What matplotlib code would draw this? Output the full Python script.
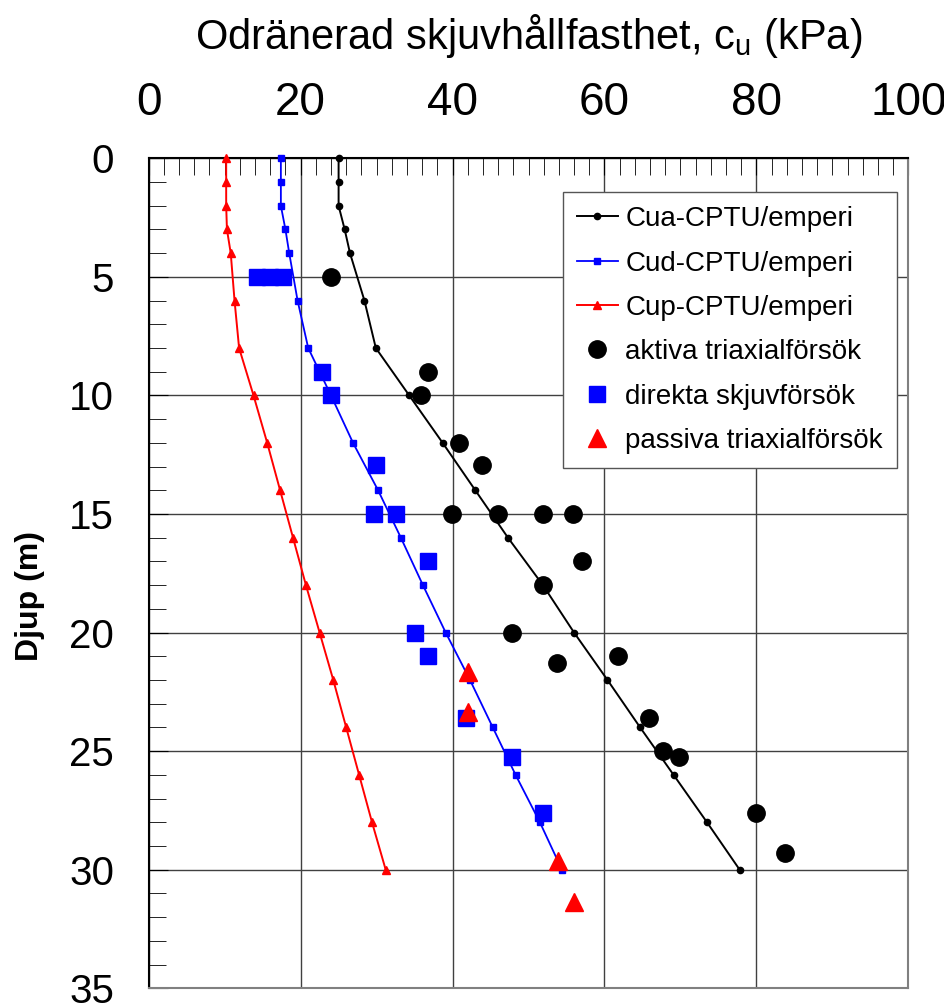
import matplotlib
matplotlib.use("Agg")
import matplotlib.pyplot as plt
from matplotlib.ticker import MultipleLocator

plt.rcParams["font.family"] = ["Liberation Sans", "DejaVu Sans"]
plt.rcParams["mathtext.fontset"] = "custom"
plt.rcParams["mathtext.rm"] = "Liberation Sans"

# CPTU-derived profiles (depth in m, cu in kPa)
depth = [0, 1, 2, 3, 4, 6, 8, 10, 12, 14, 16, 18, 20, 22, 24, 26, 28, 30]
cua = [25.0, 25.0, 25.0, 25.8, 26.5, 28.4, 29.9, 34.3, 38.7, 43.0, 47.3,
       51.9, 56.0, 60.4, 64.7, 69.1, 73.5, 77.8]
cud = [17.4, 17.4, 17.4, 18.0, 18.5, 19.6, 21.0, 24.0, 26.9, 30.2, 33.2,
       36.1, 39.1, 42.3, 45.3, 48.3, 51.5, 54.4]
cup = [10.2, 10.2, 10.2, 10.3, 10.8, 11.3, 11.9, 13.8, 15.6, 17.3, 19.0,
       20.7, 22.5, 24.3, 26.0, 27.7, 29.4, 31.2]

# laboratory tests
akt_cu = [24.0, 36.8, 35.9, 40.9, 43.9, 39.9, 46.0, 51.9, 55.8, 57.0, 51.9,
          47.8, 61.8, 53.8, 65.9, 67.7, 69.8, 79.9, 83.8]
akt_z = [5.0, 9.0, 10.0, 12.0, 12.95, 15.0, 15.0, 15.0, 15.0, 17.0, 18.0,
         20.0, 21.0, 21.3, 23.6, 25.0, 25.25, 27.6, 29.3]
dss_cu = [14.3, 16.0, 17.7, 22.8, 24.0, 29.9, 29.7, 32.5, 36.8, 35.0, 36.8,
          41.8, 47.8, 51.9]
dss_z = [5.0, 5.0, 5.0, 9.0, 10.0, 12.95, 15.0, 15.0, 17.0, 20.0, 21.0,
         23.6, 25.25, 27.6]
pas_cu = [42.0, 42.0, 53.9, 56.0]
pas_z = [21.65, 23.35, 29.65, 31.35]

fig = plt.figure(figsize=(9.45, 10.07), dpi=100)
ax = fig.add_axes([148.7 / 945, 1 - 988.3 / 1007, 759.6 / 945, 830 / 1007])

ax.plot(cua, depth, color="black", lw=1.4, marker="o", ms=4.5,
        label="Cua-CPTU/emperi", clip_on=False, zorder=3)
ax.plot(cud, depth, color="blue", lw=1.3, marker="s", ms=4.5,
        label="Cud-CPTU/emperi", clip_on=False, zorder=3)
ax.plot(cup, depth, color="red", lw=1.4, marker="^", ms=5.5,
        label="Cup-CPTU/emperi", clip_on=False, zorder=3)
ax.plot(akt_cu, akt_z, ls="none", marker="o", ms=12.5, color="black",
        label="aktiva triaxialförsök", zorder=4)
ax.plot(dss_cu, dss_z, ls="none", marker="s", ms=12, color="blue",
        label="direkta skjuvförsök", zorder=4)
ax.plot(pas_cu, pas_z, ls="none", marker="^", ms=13, color="red",
        label="passiva triaxialförsök", clip_on=False, zorder=5)

ax.set_xlim(0, 100)
ax.set_ylim(35, 0)
ax.xaxis.tick_top()
ax.xaxis.set_major_locator(MultipleLocator(20))
ax.xaxis.set_minor_locator(MultipleLocator(2))
ax.yaxis.set_major_locator(MultipleLocator(5))
ax.yaxis.set_minor_locator(MultipleLocator(1))
ax.tick_params(axis="x", which="both", direction="in", top=True, bottom=False,
               labeltop=True, labelbottom=False, color="black")
ax.tick_params(axis="x", which="major", length=12, pad=24, labelsize=33)
ax.tick_params(axis="x", which="minor", length=12)
ax.tick_params(axis="y", which="both", direction="in", left=True, right=False,
               color="black")
ax.tick_params(axis="y", which="major", length=14, pad=25, labelsize=29)
ax.tick_params(axis="y", which="minor", length=12)

ax.grid(True, which="major", color="#404040", lw=1.0)
ax.set_axisbelow(True)
for side in ["left", "top"]:
    ax.spines[side].set_color("black")
    ax.spines[side].set_linewidth(1.5)
for side in ["right", "bottom"]:
    ax.spines[side].set_color("#808080")
    ax.spines[side].set_linewidth(1.5)

leg = ax.legend(loc="upper right", bbox_to_anchor=(896.7 / 945, 1 - 192.3 / 1007),
                bbox_transform=fig.transFigure, fontsize=20, frameon=True,
                fancybox=False, edgecolor="#555555", framealpha=1,
                handlelength=1.5, handletextpad=0.25, borderpad=0.5,
                labelspacing=0.66, numpoints=1, borderaxespad=0)
leg.get_frame().set_linewidth(1.0)

fig.text(528.5 / 945, 1 - 49 / 1007,
         r"Odränerad skjuvhållfasthet, c$_\mathregular{u}$ (kPa)",
         ha="center", va="baseline", fontsize=30)
fig.text(30 / 945, 1 - 596 / 1007, "Djup (m)", rotation=90, ha="center",
         va="center", fontsize=23, fontweight="bold")

fig.savefig("out.png", dpi=100)
